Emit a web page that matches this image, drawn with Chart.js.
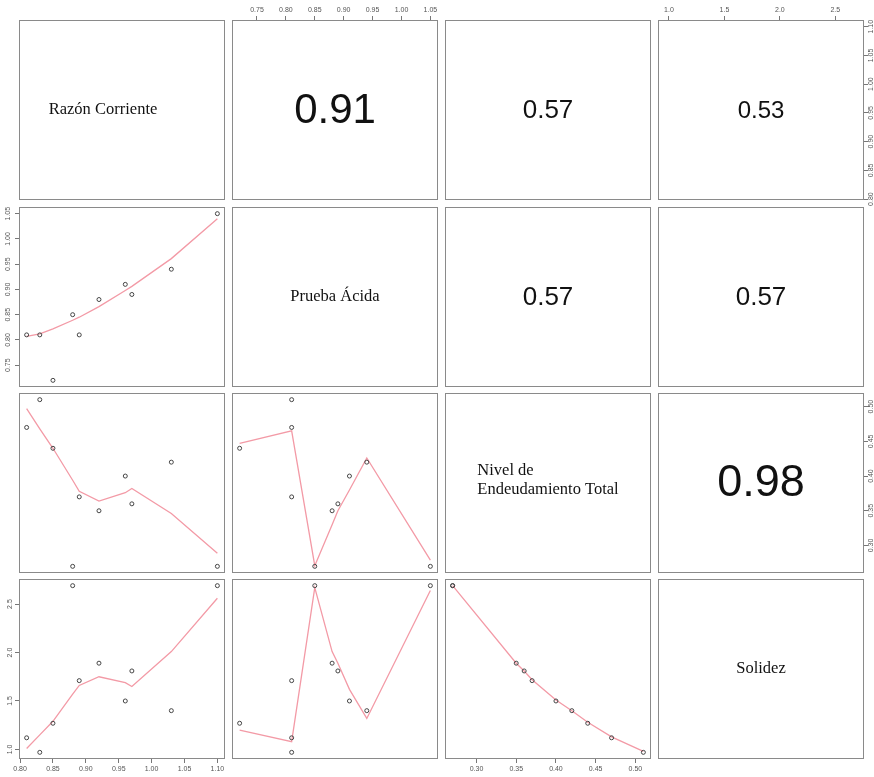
<!DOCTYPE html>
<html>
<head>
<meta charset="utf-8">
<script src="https://cdn.jsdelivr.net/npm/chart.js@4"></script>
<style>
  html, body { margin: 0; padding: 0; background: #fff; overflow: hidden; }
  #wrap { position: relative; width: 874px; height: 777px; }
  #wrap canvas { position: absolute; }
</style>
</head>
<body>
<div id="wrap"></div>
<script>
// variables of the pairs plot
const varNames = ['Razón Corriente', 'Prueba Ácida', 'Nivel de\nEndeudamiento Total', 'Solidez'];
const razonCorriente = [0.81, 0.83, 0.85, 0.88, 0.89, 0.92, 0.96, 0.97, 1.03, 1.10];
const pruebaAcida    = [0.81, 0.81, 0.72, 0.85, 0.81, 0.88, 0.91, 0.89, 0.94, 1.05];
const endeudamiento  = [0.47, 0.51, 0.44, 0.27, 0.37, 0.35, 0.40, 0.36, 0.42, 0.27];
const solidez        = [1.12, 0.97, 1.27, 2.69, 1.71, 1.89, 1.50, 1.81, 1.40, 2.69];

// tick labels
const rcTicks = [0.80, 0.85, 0.90, 0.95, 1.00, 1.05, 1.10];
const paTicks = [0.75, 0.80, 0.85, 0.90, 0.95, 1.00, 1.05];
const neTicks = [0.30, 0.35, 0.40, 0.45, 0.50];
const soTicks = [1.0, 1.5, 2.0, 2.5];

// smoother lines
const smoothXrc = [0.81, 0.83, 0.85, 0.88, 0.89, 0.92, 0.96, 0.97, 1.03, 1.10];
const smoothRcPa = [0.807, 0.812, 0.822, 0.839, 0.845, 0.866, 0.898, 0.906, 0.961, 1.040];
const smoothRcNe = [0.497, 0.468, 0.440, 0.394, 0.378, 0.364, 0.376, 0.382, 0.346, 0.289];
const smoothRcSo = [1.01, 1.15, 1.29, 1.57, 1.66, 1.75, 1.69, 1.65, 2.01, 2.56];
const smoothXpa = [0.72, 0.81, 0.85, 0.88, 0.89, 0.91, 0.94, 1.05];
const smoothPaNe = [0.447, 0.465, 0.271, 0.33, 0.35, 0.38, 0.426, 0.279];
const smoothPaSo = [1.20, 1.08, 2.67, 2.01, 1.89, 1.62, 1.32, 2.64];
const smoothXne = [0.27, 0.35, 0.36, 0.37, 0.40, 0.42, 0.44, 0.47, 0.51];
const smoothNeSo = [2.69, 1.89, 1.81, 1.72, 1.51, 1.40, 1.28, 1.13, 0.98];

// correlations shown in the upper panels
const corrValues = [
  [null, 0.91, 0.57, 0.53],
  [null, null, 0.57, 0.57],
  [null, null, null, 0.98]
];

const series = [razonCorriente, pruebaAcida, endeudamiento, solidez];
const tickSets = [rcTicks, paTicks, neTicks, soTicks];
const decimals = [2, 2, 2, 1];
const smoothers = {
  '1-0': [smoothXrc, smoothRcPa],
  '2-0': [smoothXrc, smoothRcNe],
  '3-0': [smoothXrc, smoothRcSo],
  '2-1': [smoothXpa, smoothPaNe],
  '3-1': [smoothXpa, smoothPaSo],
  '3-2': [smoothXne, smoothNeSo]
};

const colLeft = [19, 232, 445, 658];
const rowTop = [20, 207, 393, 579];
const panelW = 206, panelH = 180, M = 20;
const tickFont = { size: 7, family: 'Liberation Sans' };

function limits(arr) {
  const lo = Math.min(...arr), hi = Math.max(...arr);
  const pad = (hi - lo) * 0.04;
  return [lo - pad, hi + pad];
}

const panelDecor = {
  id: 'panelDecor',
  afterDraw(chart, args, opts) {
    const { ctx, chartArea: a } = chart;
    ctx.save();
    ctx.strokeStyle = '#8a8a8a';
    ctx.lineWidth = 1;
    ctx.strokeRect(Math.round(a.left) + 0.5, Math.round(a.top) + 0.5,
                   Math.round(a.right - a.left) - 1, Math.round(a.bottom - a.top) - 1);
    const cx = (a.left + a.right) / 2, cy = (a.top + a.bottom) / 2;
    ctx.fillStyle = '#111';
    ctx.textBaseline = 'middle';
    if (opts.label) {
      ctx.font = '16.5px "Liberation Serif"';
      const lines = opts.label.split('\n');
      if (lines.length > 1) {
        const w = Math.max(...lines.map(l => ctx.measureText(l).width));
        ctx.textAlign = 'left';
        lines.forEach((l, i) => ctx.fillText(l, cx - w / 2, cy - 3 + (i - (lines.length - 1) / 2) * 19));
      } else {
        ctx.textAlign = 'center';
        ctx.fillText(opts.label, cx - (opts.shift || 0), cy);
      }
    }
    if (opts.corr != null) {
      ctx.font = Math.round(46 * opts.corr) + 'px "Liberation Sans"';
      ctx.textAlign = 'center';
      ctx.fillText(opts.corr.toFixed(2), cx, cy + 1);
    }
    ctx.restore();
  }
};

function axisScale(v, horizontal, show, position) {
  const [min, max] = limits(series[v]);
  const s = {
    type: 'linear',
    min: min,
    max: max,
    display: show,
    position: position,
    afterBuildTicks: sc => { sc.ticks = tickSets[v].map(t => ({ value: t })); },
    afterFit: sc => {
      if (!show) return;
      if (horizontal) sc.height = M; else sc.width = M;
    },
    grid: { display: true, drawOnChartArea: false, drawTicks: true, tickLength: 4, color: '#777' },
    border: { display: false },
    ticks: {
      font: tickFont,
      color: '#555',
      padding: 2,
      autoSkip: false,
      callback: val => Number(val).toFixed(decimals[v])
    }
  };
  if (horizontal) {
    s.ticks.maxRotation = 0;
    s.ticks.minRotation = 0;
  } else {
    s.ticks.minRotation = 90;
    s.ticks.maxRotation = 90;
    s.ticks.crossAlign = 'center';
    s.ticks.padding = position === 'right' ? -4 : 0;
  }
  return s;
}

const wrap = document.getElementById('wrap');
const n = series.length;

for (let r = 0; r < n; r++) {
  for (let c = 0; c < n; c++) {
    const canvas = document.createElement('canvas');
    canvas.width = panelW + 2 * M;
    canvas.height = panelH + 2 * M;
    canvas.style.left = (colLeft[c] - M) + 'px';
    canvas.style.top = (rowTop[r] - M) + 'px';
    wrap.appendChild(canvas);

    const showTop = r === 0 && c % 2 === 1;
    const showBottom = r === n - 1 && c % 2 === 0;
    const showLeft = c === 0 && r % 2 === 1;
    const showRight = c === n - 1 && r % 2 === 0;

    const datasets = [];
    if (r > c) {
      datasets.push({
        data: series[c].map((x, i) => ({ x: x, y: series[r][i] })),
        pointStyle: 'circle',
        pointRadius: 2,
        backgroundColor: 'rgba(0,0,0,0)',
        borderColor: '#444',
        borderWidth: 1
      });
      const sm = smoothers[r + '-' + c];
      datasets.push({
        data: sm[0].map((x, i) => ({ x: x, y: sm[1][i] })),
        showLine: true,
        pointRadius: 0,
        borderColor: '#f39aa6',
        borderWidth: 1.3,
        tension: 0
      });
    }

    const decor = {};
    if (r === c) { decor.label = varNames[r]; if (r === 0) decor.shift = 19; }
    if (r < c) decor.corr = corrValues[r][c];

    new Chart(canvas.getContext('2d'), {
      type: 'scatter',
      data: { datasets: datasets },
      options: {
        responsive: false,
        animation: false,
        events: [],
        layout: {
          padding: {
            top: showTop ? 0 : M,
            bottom: showBottom ? 0 : M,
            left: showLeft ? 0 : M,
            right: showRight ? 0 : M
          }
        },
        plugins: {
          legend: { display: false },
          tooltip: { enabled: false },
          panelDecor: decor
        },
        scales: {
          x: axisScale(c, true, showTop || showBottom, showTop ? 'top' : 'bottom'),
          y: axisScale(r, false, showLeft || showRight, showRight ? 'right' : 'left')
        }
      },
      plugins: [panelDecor]
    });
  }
}
</script>
</body>
</html>
